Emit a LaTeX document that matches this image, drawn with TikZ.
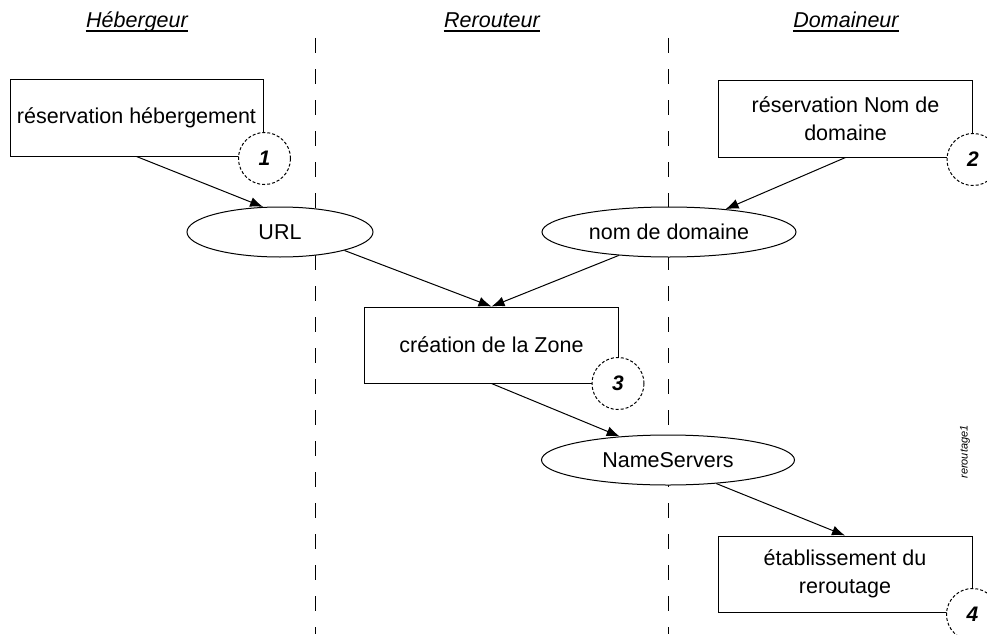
\documentclass[tikz,border=0pt]{standalone}
\usepackage{fontspec}
\setmainfont{Liberation Sans}
\usetikzlibrary{arrows.meta,shapes.geometric}

\begin{document}
\begin{tikzpicture}[x=1pt,y=-1pt,>={Latex[length=13pt,width=10pt]},
    line width=1pt,
    every node/.style={font=\fontsize{21.5}{28}\selectfont},
    task node/.style={rectangle,draw,fill=white,align=center,minimum width=254pt,minimum height=77pt,inner sep=0pt},
    data node/.style={ellipse,draw,fill=white,minimum height=50pt,inner sep=0pt},
    num node/.style={circle,draw,dash pattern=on 3pt off 2pt,fill=white,minimum size=52pt,inner sep=0pt,font=\fontsize{21}{24}\selectfont\bfseries\itshape},
    lane/.style={dash pattern=on 15pt off 16pt},
    lane title/.style={anchor=base,inner sep=0pt,font=\fontsize{21.5}{24}\selectfont\itshape},
    title rule/.style={line width=2pt}]
    \useasboundingbox (0,0) rectangle (987,634);
    % swimlanes
    \draw[lane] (315,38) -- (315,634);
    \draw[lane] (668,38) -- (668,634);
    \node[lane title] (t1) at (137,28) {Hébergeur};
    \node[lane title] (t2) at (492,28) {Rerouteur};
    \node[lane title] (t3) at (846,28) {Domaineur};
    \foreach \t in {t1,t2,t3}
      \draw[title rule] ([yshift=-3.5pt]\t.base west) -- ([yshift=-3.5pt]\t.base east);
    % tasks and data
    \node[task node,minimum width=253pt] (1) at (136.5,117.5) {réservation hébergement};
    \node[task node] (2) at (845.5,118.5) {réservation Nom de\\domaine};
    \node[task node,minimum height=76pt] (3) at (491.5,345) {création de la Zone};
    \node[task node,minimum height=76pt] (4) at (845,574) {établissement du\\reroutage};
    \node[data node,minimum width=186pt] (url) at (280,232) {URL};
    \node[data node,minimum width=254pt] (ndd) at (669,232) {nom de domaine};
    \node[data node,minimum width=253pt] (ns) at (668,460) {NameServers};
    % step numbers
    \node[num node] (c1) at ([xshift=1pt,yshift=-2pt]1.south east) {1};
    \node[num node] (c2) at ([yshift=-2pt]2.south east) {2};
    \node[num node] (c3) at ([xshift=-1pt]3.south east) {3};
    \node[num node] (c4) at ([yshift=-2pt]4.south east) {4};
    \path[->]
    (1.south) edge (url.124)
    (2.south) edge (ndd.22)
    (url.344) edge (3.north)
    (ndd.205) edge (3.north)
    (3.south) edge (ns.154)
    (ns.334) edge (4.north);
    \node[rotate=90,font=\fontsize{11}{12}\selectfont\itshape] (tag) at (965,452) {reroutage1};
\end{tikzpicture}
\end{document}
